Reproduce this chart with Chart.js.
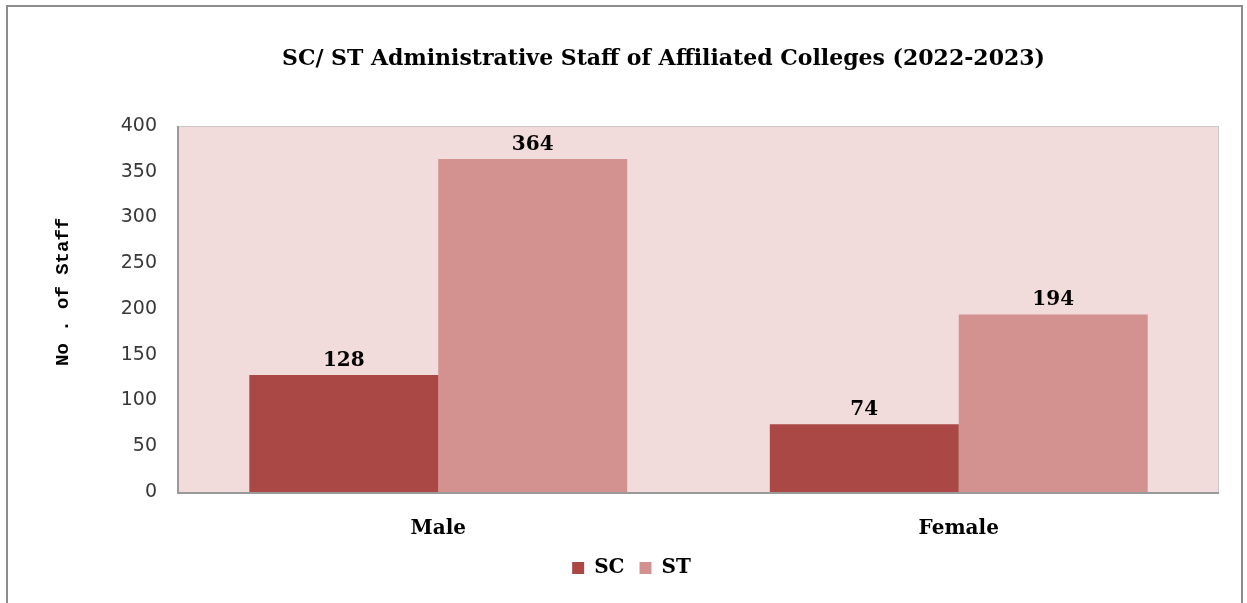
<!DOCTYPE html>
<html>
<head>
<meta charset="utf-8">
<script src="https://cdn.jsdelivr.net/npm/chart.js@4.4.1/dist/chart.umd.min.js"></script>
<style>
  html, body { margin: 0; padding: 0; background: #fff; width: 1247px; height: 603px; overflow: hidden; }
  #frame { position: absolute; left: 6px; top: 5px; width: 1237px; height: 640px; border: 2px solid #8c8c8c; box-sizing: border-box; }
  #wrap { position: absolute; left: 0; top: 0; width: 1247px; height: 603px; }
</style>
</head>
<body>
<div id="frame"></div>
<div id="wrap"><canvas id="c" width="1247" height="603"></canvas></div>
<script>
const categories = ["Male", "Female"];
const scValues = [128, 74];
const stValues = [364, 194];
const seriesNames = ["SC", "ST"];
const yTicks = [0, 50, 100, 150, 200, 250, 300, 350, 400];
const titleText = "SC/ ST Administrative Staff of Affiliated Colleges (2022-2023)";
const yTitle = "   No . of Staff";

const serif = "'DejaVu Serif', 'Liberation Serif', serif";
const sans = "'DejaVu Sans', Verdana, sans-serif";
const mono = "'Liberation Mono', 'DejaVu Sans Mono', monospace";

const plotBg = {
  id: 'plotBg',
  afterLayout(chart) {
    // horizontal offsets of the title and legend as in the reference
    if (chart.titleBlock) { chart.titleBlock.left += 54; chart.titleBlock.right += 54; }
    if (chart.legend) { chart.legend.left += 22; chart.legend.right += 22; }
  },
  beforeDraw(chart) {
    const { ctx, chartArea: a } = chart;
    ctx.save();
    ctx.fillStyle = '#F2DCDB';
    ctx.fillRect(a.left, a.top, a.right - a.left, a.bottom - a.top);
    ctx.restore();
  },
  afterDatasetsDraw(chart) {
    const { ctx, chartArea: a } = chart;
    ctx.save();
    ctx.strokeStyle = '#C8C8C8';
    ctx.lineWidth = 1;
    ctx.strokeRect(a.left + 0.5, a.top + 0.5, a.right - a.left - 1, a.bottom - a.top);
    ctx.strokeStyle = '#9a9a9a';
    ctx.lineWidth = 2;
    ctx.beginPath();
    ctx.moveTo(a.left, a.top);
    ctx.lineTo(a.left, a.bottom + 1);
    ctx.lineTo(a.right, a.bottom + 1);
    ctx.stroke();
    ctx.restore();
  }
};

const valueLabels = {
  id: 'valueLabels',
  afterDatasetsDraw(chart) {
    const { ctx } = chart;
    ctx.save();
    ctx.font = "bold 20px " + serif;
    ctx.fillStyle = '#000';
    ctx.textAlign = 'center';
    ctx.textBaseline = 'alphabetic';
    chart.data.datasets.forEach((ds, i) => {
      chart.getDatasetMeta(i).data.forEach((bar, j) => {
        ctx.fillText(String(ds.data[j]), bar.x, bar.y - 9);
      });
    });
    ctx.restore();
  }
};

new Chart(document.getElementById('c'), {
  type: 'bar',
  data: {
    labels: categories,
    datasets: [
      { label: seriesNames[0], data: scValues, backgroundColor: '#AA4845', borderWidth: 0 },
      { label: seriesNames[1], data: stValues, backgroundColor: '#D39190', borderWidth: 0 }
    ]
  },
  options: {
    responsive: false,
    animation: false,
    devicePixelRatio: 1,
    layout: { padding: { left: 0, right: 28, top: 0, bottom: 15 } },
    datasets: { bar: { categoryPercentage: 0.726, barPercentage: 1.0 } },
    plugins: {
      title: {
        display: true,
        text: titleText,
        color: '#000',
        font: { family: serif, size: 22, weight: 'bold' },
        padding: { top: 46, bottom: 53.6 }
      },
      legend: {
        display: true,
        position: 'bottom',
        labels: {
          color: '#000',
          font: { family: serif, size: 20, weight: 'bold' },
          boxWidth: 12,
          boxHeight: 12,
          padding: 15
        }
      },
      tooltip: { enabled: false }
    },
    scales: {
      x: {
        afterFit(scale) { scale.height = 51; },
        grid: { display: false, drawTicks: false },
        border: { display: false },
        ticks: {
          color: '#000',
          font: { family: serif, size: 20, weight: 'bold' },
          padding: 25
        }
      },
      y: {
        min: 0,
        max: 400,
        afterFit(scale) { scale.width = 178; },
        afterBuildTicks(scale) { scale.ticks = yTicks.map(v => ({ value: v })); },
        grid: { display: false, drawTicks: false },
        border: { display: false },
        ticks: {
          color: '#383838',
          font: { family: sans, size: 19 },
          padding: 21
        },
        title: {
          display: true,
          text: yTitle,
          color: '#000',
          font: { family: mono, size: 19, weight: 'bold' },
          padding: { top: 52, bottom: 0 }
        }
      }
    }
  },
  plugins: [plotBg, valueLabels]
});
</script>
</body>
</html>
